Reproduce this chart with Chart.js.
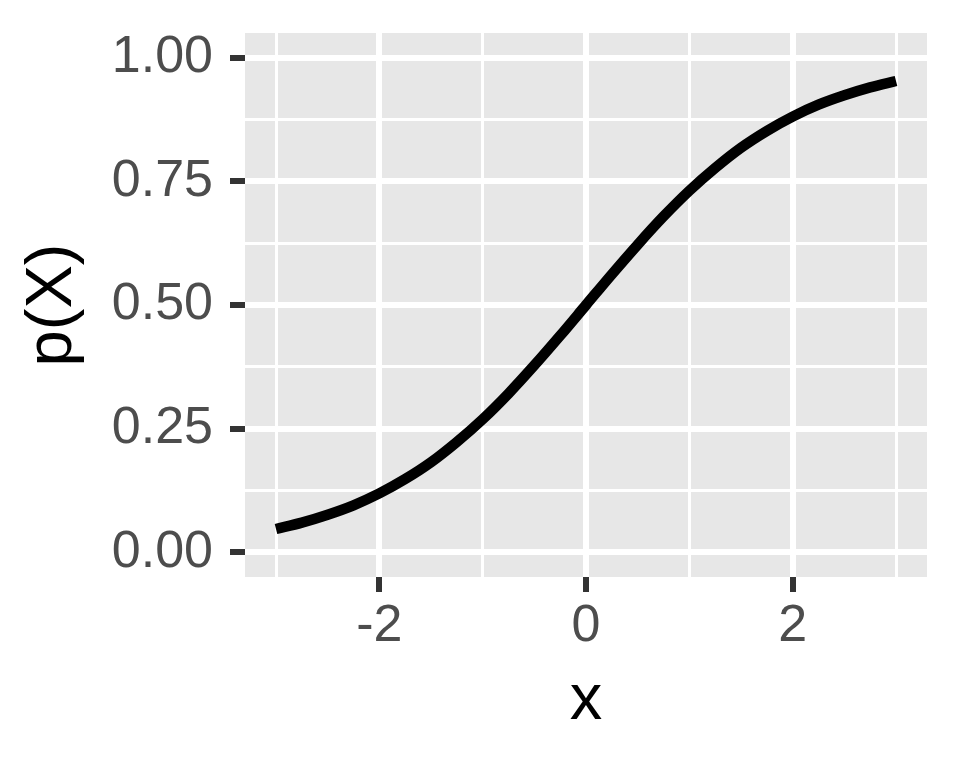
<!DOCTYPE html>
<html>
<head>
<meta charset="utf-8">
<script src="https://cdn.jsdelivr.net/npm/chart.js@4/dist/chart.umd.min.js"></script>
<style>
  html, body { margin: 0; padding: 0; background: #ffffff; }
  canvas { display: block; }
</style>
</head>
<body>
<canvas id="myChart" width="960" height="768"></canvas>
<script>
// x values and p(X)
const xValues = [-3, -2.75, -2.5, -2.25, -2, -1.75, -1.5, -1.25, -1, -0.75, -0.5, -0.25,
                 0, 0.25, 0.5, 0.75, 1, 1.25, 1.5, 1.75, 2, 2.25, 2.5, 2.75, 3];
const pValues = [0.047, 0.060, 0.076, 0.095, 0.119, 0.148, 0.182, 0.223, 0.269, 0.321, 0.378, 0.438,
                 0.500, 0.562, 0.622, 0.679, 0.731, 0.777, 0.818, 0.852, 0.881, 0.905, 0.924, 0.940, 0.953];

// tick / grid positions
const xMajorTicks = [-2, 0, 2];
const xMinorTicks = [-3, -1, 1, 3];
const yMajorTicks = [0, 0.25, 0.5, 0.75, 1];
const yMinorTicks = [0.125, 0.375, 0.625, 0.875];
const yTickLabels = ['0.00', '0.25', '0.50', '0.75', '1.00'];

const points = xValues.map((x, i) => ({ x: x, y: pValues[i] }));

// grey panel like ggplot
const panelBg = {
    id: 'panelBg',
    beforeDraw(chart) {
        const a = chart.chartArea;
        const c = chart.ctx;
        c.save();
        c.fillStyle = '#E7E7E7';
        c.fillRect(a.left, a.top, a.right - a.left, a.bottom - a.top);
        c.restore();
    }
};

function isMajor(list, v) {
    return list.some(m => Math.abs(m - v) < 1e-9);
}

const ctx = document.getElementById('myChart').getContext('2d');
const chart = new Chart(ctx, {
    type: 'scatter',
    data: {
        datasets: [{
            data: points,
            showLine: true,
            borderColor: '#000000',
            borderWidth: 10.5,
            borderCapStyle: 'butt',
            cubicInterpolationMode: 'monotone',
            pointRadius: 0,
            pointHoverRadius: 0,
            fill: false
        }]
    },
    options: {
        responsive: false,
        animation: false,
        layout: { padding: { top: 33, right: 33, left: 0, bottom: 0 } },
        plugins: {
            legend: { display: false },
            tooltip: { enabled: false }
        },
        scales: {
            x: {
                type: 'linear',
                min: -3.3,
                max: 3.3,
                afterBuildTicks(scale) {
                    scale.ticks = xMinorTicks.concat(xMajorTicks).sort((a, b) => a - b).map(v => ({ value: v }));
                },
                afterFit(scale) {
                    scale.height = 191;
                    scale.paddingLeft = 0;
                    scale.paddingRight = 0;
                },
                border: { display: false },
                grid: {
                    color: '#ffffff',
                    lineWidth: c => isMajor(xMajorTicks, c.tick.value) ? 6 : 3,
                    drawTicks: true,
                    tickLength: 15,
                    tickWidth: 6,
                    tickColor: c => isMajor(xMajorTicks, c.tick.value) ? '#333333' : 'rgba(0,0,0,0)'
                },
                ticks: {
                    autoSkip: false,
                    maxRotation: 0,
                    padding: 3,
                    color: '#4D4D4D',
                    font: { family: '"Liberation Sans", Arial, sans-serif', size: 52 },
                    callback: v => isMajor(xMajorTicks, v) ? String(v) : ''
                },
                title: {
                    display: true,
                    text: 'x',
                    color: '#000000',
                    font: { family: '"Liberation Sans", Arial, sans-serif', size: 65 },
                    padding: { top: 0, bottom: 28 }
                }
            },
            y: {
                type: 'linear',
                min: -0.05,
                max: 1.05,
                afterBuildTicks(scale) {
                    scale.ticks = yMinorTicks.concat(yMajorTicks).sort((a, b) => a - b).map(v => ({ value: v }));
                },
                afterFit(scale) {
                    scale.width = 245;
                    scale.paddingTop = 0;
                    scale.paddingBottom = 0;
                },
                border: { display: false },
                grid: {
                    color: '#ffffff',
                    lineWidth: c => isMajor(yMajorTicks, c.tick.value) ? 6 : 3,
                    drawTicks: true,
                    tickLength: 15,
                    tickWidth: 6,
                    tickColor: c => isMajor(yMajorTicks, c.tick.value) ? '#333333' : 'rgba(0,0,0,0)'
                },
                ticks: {
                    autoSkip: false,
                    padding: 17,
                    color: '#4D4D4D',
                    font: { family: '"Liberation Sans", Arial, sans-serif', size: 52 },
                    callback: v => {
                        const i = yMajorTicks.findIndex(m => Math.abs(m - v) < 1e-9);
                        return i >= 0 ? yTickLabels[i] : '';
                    }
                },
                title: {
                    display: true,
                    text: 'p(X)',
                    color: '#000000',
                    font: { family: '"Liberation Sans", Arial, sans-serif', size: 65 },
                    padding: { top: 14, bottom: 0 }
                }
            }
        }
    },
    plugins: [panelBg]
});
</script>
</body>
</html>
